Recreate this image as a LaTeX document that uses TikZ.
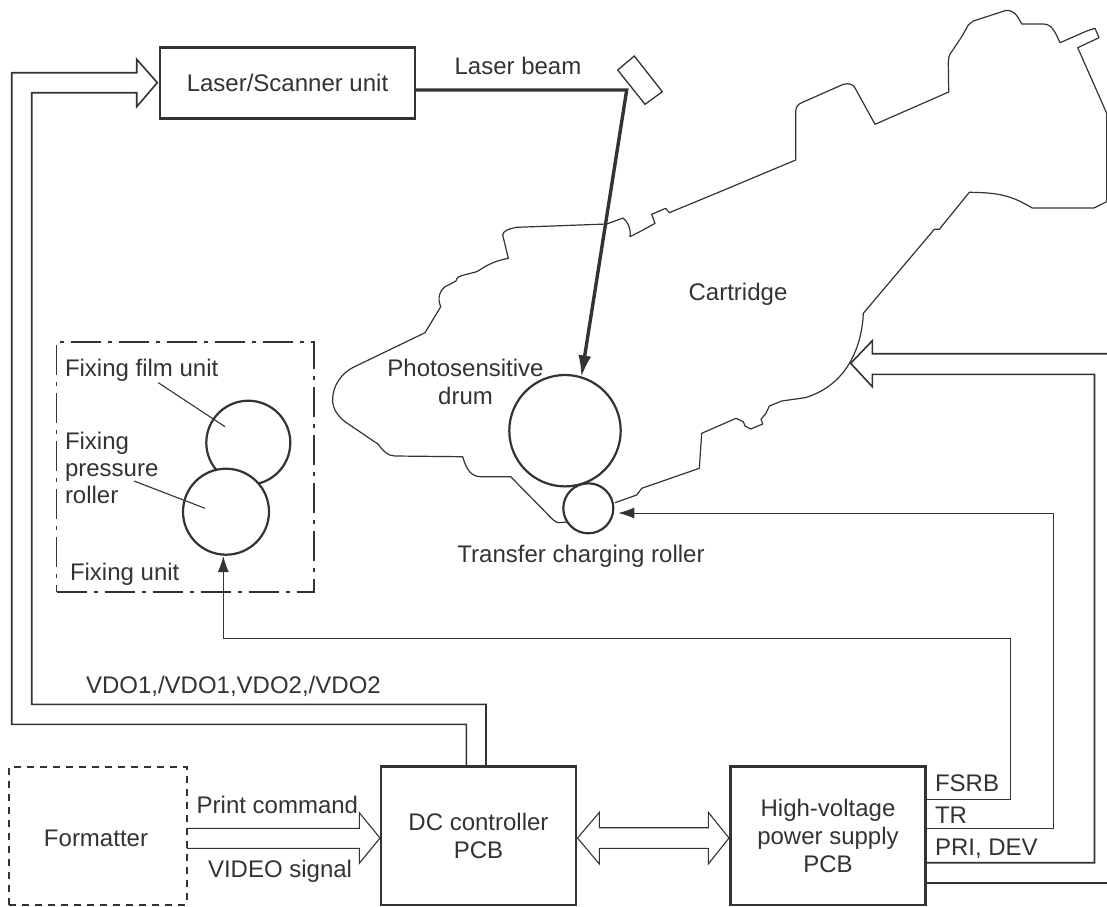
\documentclass[tikz,border=0pt]{standalone}
\usepackage{fontspec}
\setmainfont{Liberation Sans}
\usetikzlibrary{arrows.meta}
\definecolor{ink}{HTML}{333333}
\tikzset{
  x=1pt,y=-1pt,
  every node/.style={text=ink,font=\fontsize{24}{28}\selectfont,inner sep=0pt,outer sep=0pt},
  capsized/.style={text height=17pt,text depth=0pt},
  lbl/.style={capsized,anchor=center,align=center},
  lft/.style={capsized,anchor=west,align=left},
  multi/.style={anchor=center,align=center},
  box/.style={draw=ink,line width=2.4pt,fill=white},
  thin line/.style={draw=ink,line width=1.1pt},
  bus/.style={draw=ink,line width=1.6pt,line join=miter},
  outline/.style={draw=ink,line width=1.2pt,line join=round},
  signal/.style={draw=ink,line width=1pt,-{Latex[length=16pt,width=11pt]}},
  roller/.style={draw=ink,line width=2.2pt,circle,minimum size=#1},
}
\begin{document}
\begin{tikzpicture}
\useasboundingbox (0,0) rectangle (1107,906);
% cartridge outline
\draw[outline]
 (567,522) -- (558.3,522.7) .. controls (554,521) and (552,519) .. (550,516.7) -- (510.7,476.7) -- (480,476.7)
 .. controls (470,476) and (466,468) .. (462.7,456.7) -- (395,456) .. controls (388,456) and (383,451) .. (378.3,444.3)
 -- (345,421.7) .. controls (335,414) and (332,405) .. (332.7,398.3) .. controls (333,385) and (342,373) .. (353.3,367.3)
 -- (425,332.7) -- (440.7,306.7) .. controls (437,298) and (440,290) .. (445,286.7) -- (456,281) .. controls (457,277) and (459,276) .. (462,275.5)
 -- (476.7,271.7) .. controls (485,267) and (490,262) .. (508.3,258.3) -- (502.7,235) .. controls (503,231) and (508,229) .. (516.7,227.3)
 -- (606.7,224) -- (623,218) .. controls (628,222) and (631,228) .. (630,236.7) -- (641.7,230.7) -- (655,223.3) -- (651.7,214.3) -- (665.7,208.3) -- (669.3,212.7)
 -- (720,191.7) -- (795.7,160) -- (795.7,111.7) .. controls (796,106) and (798,104.5) .. (801.7,102.7) -- (843.3,84.3)
 .. controls (849,83) and (853,84) .. (855,88) -- (875,124.3) -- (948.7,92) -- (948.3,63.3) .. controls (948.5,57) and (949,55) .. (951.7,51.7)
 -- (961.7,36.7) -- (968.3,25) -- (973.3,21) -- (1005,10.7) .. controls (1012,9) and (1017,14) .. (1021.7,24) -- (1043.3,24)
 .. controls (1052,24) and (1055,32) .. (1060,42.7) -- (1086.7,31) -- (1095,28.3) -- (1099,37.7) -- (1077.7,47.7) -- (1106.7,113.3) -- (1106.7,201.7)
 -- (1094,208) -- (1032.3,208) .. controls (1012,196) and (1000,192.5) .. (969.3,192.3) -- (939.3,229.3) -- (934.3,229.3) -- (863.3,313.3)
 .. controls (862,345) and (848,385) .. (805,397.7)
 -- (781.7,401) -- (769.3,406) -- (766,413.3) -- (761,419.3) -- (762.7,424) -- (750.7,429) -- (745,426) -- (743.3,421.7) -- (736,418.3)
 -- (701.7,433.3) -- (699.3,468.3) -- (641.7,488.3) -- (636.7,495) -- (615,502.7);
% rollers
\node[roller=111.4pt] (drum) at (565,430.7) {};
\node[roller=50pt] (transfer) at (588.3,508.3) {};
\node[roller=84pt,fill=white] (film) at (248.3,442.7) {};
\node[roller=86pt,fill=white] (pressure) at (226,511.7) {};
% fixing unit
\node[draw=ink,line width=1.6pt,dash pattern=on 30pt off 7pt on 4pt off 7pt,minimum width=257.3pt,minimum height=250pt] (fixunit) at (185.3,466.7) {};
% boxes
\node[box,capsized,minimum width=255pt,minimum height=71pt] (laser) at (287.5,82.8) {Laser/Scanner unit};
\node[box,minimum width=195pt,minimum height=138.3pt,align=center] (dc) at (478.5,835.8) {DC controller\\PCB};
\node[box,minimum width=195pt,minimum height=138.3pt,align=center] (hv) at (828,835.8) {High-voltage\\power supply\\PCB};
\node[draw=ink,line width=2pt,dash pattern=on 7pt off 6pt,minimum width=177.4pt,minimum height=138.3pt] (fmt) at (98,835.8) {};
% coordinates
\coordinate (edge1) at (1107,353.7);
\coordinate (edge2) at (1107,882.7);
\coordinate (mirror) at (626.7,90);
\coordinate (ttip) at (618.3,513);
\coordinate (ftip) at (223.3,556);
% mirror
\draw[draw=ink,line width=1.3pt] (617.7,70) -- (634.3,56) -- (662.3,91.7) -- (645,104.3) -- cycle;
% laser beam
\draw[draw=ink,line width=3.4pt,line join=miter,-{Latex[length=22pt,width=13pt]}] (laser.east |- mirror) -- (mirror) -- (drum.73);
% bus to laser
\draw[bus] (466.3,766.7) -- (466.3,724.3) -- (11.7,724.3) -- (11.7,72.7) -- (136.7,72.7) -- (136.7,59.3) -- (157.3,82.7) -- (136.7,106.7) -- (136.7,92.7) -- (31.7,92.7) -- (31.7,704.3) -- (486,704.3) -- (486,766.7);
% formatter to dc
\draw[draw=ink,line width=1.1pt] (187,828.3) -- (359.3,828.3) -- (359.3,812.7) -- (380,838) -- (359.3,863.3) -- (359.3,848.3) -- (187,848.3);
% dc <-> hv
\draw[draw=ink,line width=1.1pt] (577.5,838) -- (599.4,812.3) -- (599.4,827.7) -- (708.3,827.7) -- (708.3,812.3) -- (729,838) -- (708.3,864) -- (708.3,848.3) -- (599.4,848.3) -- (599.4,864) -- cycle;
% hv to cartridge
\draw[bus] (hv.east |- 0,862.7) -- (1094.5,862.7) -- (1094.5,374.3) -- (872.3,374.3) -- (872.3,386.7) -- (850.7,363.3) -- (872.3,340.7) -- (872.3,353.7) -- (edge1);
\draw[bus] (hv.east |- edge2) -- (edge2);
% signals
\draw[signal] (hv.east |- 0,828.3) -- (1053.5,828.3) -- (1053.5,513) -- (ttip);
\draw[signal] (hv.east |- 0,799) -- (1010,799) -- (1010,638) -- (223.3,638) -- (ftip);
% leaders
\draw[thin line] (158.3,382.7) -- (225,426.7);
\draw[thin line] (134,481) -- (205,508.3);
% labels
\node[lbl] (lfmt) at (96,838) {Formatter};
\node[lbl] (lbeam) at (518,66) {Laser beam};
\node[lbl] (cart) at (738,292) {Cartridge};
\node[multi] (ldrum) at (465.5,382) {Photosensitive\\drum};
\node[lbl] (ltrans) at (581,554) {Transfer charging roller};
\node[lft] (lfilm) at (65,368) {Fixing film unit};
\node[multi,anchor=west,align=left,font=\fontsize{24}{26.7}\selectfont] (lpress) at (65,468) {Fixing\\pressure\\roller};
\node[lft] (lfix) at (70,571.7) {Fixing unit};
\node[lft] (lvdo) at (86,685) {VDO1,/VDO1,VDO2,/VDO2};
\node[lft] (lprint) at (196.7,805) {Print command};
\node[lft] (lvideo) at (208,869) {VIDEO signal};
\node[lft] (lfsrb) at (935,782.7) {FSRB};
\node[lft] (ltr) at (935,815) {TR};
\node[lft] (lpri) at (935,846.7) {PRI, DEV};
\end{tikzpicture}
\end{document}
